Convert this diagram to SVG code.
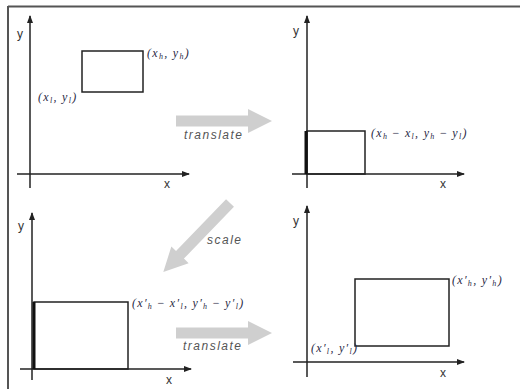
<svg xmlns="http://www.w3.org/2000/svg" width="520" height="389" viewBox="0 0 520 389">
<defs>
<marker id="ah" markerWidth="8" markerHeight="6" refX="7" refY="3" orient="auto" markerUnits="userSpaceOnUse">
<path d="M0,0 L8,3 L0,6 Z" fill="#222"/>
</marker>
<style>
.ax{stroke:#222;stroke-width:1.5;fill:none}
.rc{stroke:#222;stroke-width:1.5;fill:none}
.thick{stroke:#111;stroke-width:3}
.al{font-family:"Liberation Sans",Arial,sans-serif;font-size:12px;fill:#333}
.lb{font-family:"Liberation Serif","Times New Roman",serif;font-style:italic;font-size:12px;letter-spacing:1.3px;fill:#2a2a45}
.sb{font-size:8px}
.op{font-style:normal}
.bigarrow{fill:#cfcfcf}
.tl{font-family:"Liberation Sans",Arial,sans-serif;font-style:italic;font-size:12px;letter-spacing:1.5px;fill:#555}
</style>
</defs>
<rect width="520" height="389" fill="#fff"/>
<g id="frame">
<line x1="8" y1="6.5" x2="520" y2="6.5" stroke="#555" stroke-width="2"/>
<line x1="8" y1="6" x2="8" y2="389" stroke="#555" stroke-width="2"/>
</g>
<g id="panel-original">
<line class="ax" x1="30" y1="188" x2="30" y2="16" marker-end="url(#ah)"/>
<line class="ax" x1="17" y1="174" x2="189" y2="174" marker-end="url(#ah)"/>
<text class="al" x="17" y="38">y</text>
<text class="al" x="164" y="188">x</text>
<rect class="rc" x="82" y="51" width="61" height="41"/>
<text class="lb" x="147" y="57">(x<tspan class="sb" baseline-shift="-2">h</tspan>, y<tspan class="sb" baseline-shift="-2">h</tspan>)</text>
<text class="lb" x="38" y="101">(x<tspan class="sb" baseline-shift="-2">l</tspan>, y<tspan class="sb" baseline-shift="-2">l</tspan>)</text>
</g>
<g id="panel-translated">
<line class="ax" x1="307" y1="188" x2="307" y2="16" marker-end="url(#ah)"/>
<line class="ax" x1="292" y1="174" x2="464" y2="174" marker-end="url(#ah)"/>
<text class="al" x="293" y="35">y</text>
<text class="al" x="440" y="188">x</text>
<rect class="rc" x="307" y="131" width="58" height="43"/>
<line class="thick" x1="306" y1="131" x2="306" y2="174"/>
<text class="lb" x="371" y="137">(x<tspan class="sb" baseline-shift="-2">h</tspan><tspan class="op"> − </tspan>x<tspan class="sb" baseline-shift="-2">l</tspan>, y<tspan class="sb" baseline-shift="-2">h</tspan><tspan class="op"> − </tspan>y<tspan class="sb" baseline-shift="-2">l</tspan>)</text>
</g>
<g id="panel-scaled">
<line class="ax" x1="32" y1="380" x2="32" y2="213" marker-end="url(#ah)"/>
<line class="ax" x1="20" y1="369" x2="191" y2="369" marker-end="url(#ah)"/>
<text class="al" x="18" y="230">y</text>
<text class="al" x="166" y="384">x</text>
<rect class="rc" x="34" y="302" width="94" height="67"/>
<line class="thick" x1="34" y1="302" x2="34" y2="369"/>
<text class="lb" x="132" y="307">(x′<tspan class="sb" baseline-shift="-2">h</tspan><tspan class="op"> − </tspan>x′<tspan class="sb" baseline-shift="-2">l</tspan>, y′<tspan class="sb" baseline-shift="-2">h</tspan><tspan class="op"> − </tspan>y′<tspan class="sb" baseline-shift="-2">l</tspan>)</text>
</g>
<g id="panel-final">
<line class="ax" x1="307" y1="377" x2="307" y2="206" marker-end="url(#ah)"/>
<line class="ax" x1="293" y1="362" x2="464" y2="362" marker-end="url(#ah)"/>
<text class="al" x="293" y="225">y</text>
<text class="al" x="440" y="377">x</text>
<rect class="rc" x="355" y="279" width="94" height="67"/>
<text class="lb" x="452" y="284">(x′<tspan class="sb" baseline-shift="-2">h</tspan>, y′<tspan class="sb" baseline-shift="-2">h</tspan>)</text>
<text class="lb" x="311" y="352">(x′<tspan class="sb" baseline-shift="-2">l</tspan>, y′<tspan class="sb" baseline-shift="-2">l</tspan>)</text>
</g>
<g id="connectors">
<g id="translate1">
<path class="bigarrow" d="M176,115.5 L248,115.5 L248,109 L272,121 L248,133 L248,126.5 L176,126.5 Z"/>
<text class="tl" x="184" y="139">translate</text>
</g>
<g id="scale">
<path class="bigarrow" transform="translate(230,203) rotate(134)" d="M0,-5.5 L72,-5.5 L72,-12 L96,0 L72,12 L72,5.5 L0,5.5 Z"/>
<text class="tl" x="207" y="244">scale</text>
</g>
<g id="translate2">
<path class="bigarrow" d="M176,327.5 L248,327.5 L248,321 L272,333 L248,345 L248,338.5 L176,338.5 Z"/>
<text class="tl" x="183" y="350">translate</text>
</g>
</g>
</svg>
